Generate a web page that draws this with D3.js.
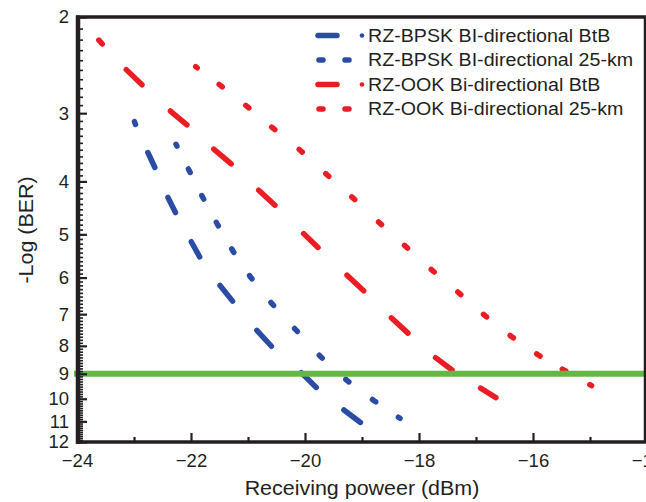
<!DOCTYPE html>
<html><head><meta charset="utf-8">
<script src="https://cdn.jsdelivr.net/npm/d3@7/dist/d3.min.js"></script>
<style>
body{margin:0;background:#fff}
svg{display:block}
text{font-family:Arial,"Liberation Sans",Helvetica,sans-serif;fill:#231f20}
</style></head>
<body><svg id="chart" width="646" height="502"></svg>
<script>
// ---------------- data ----------------
const xTickValues = [-24, -22, -20, -18, -16, -14];
const xMinorValues = [-23, -21, -19, -17, -15];
const yTickValues = [2, 3, 4, 5, 6, 7, 8, 9, 10, 11, 12];
const xTitle = "Receiving poweer (dBm)";
const yTitle = "-Log (BER)";
const seriesNames = ["RZ-BPSK BI-directional BtB", "RZ-BPSK BI-directional 25-km",
                     "RZ-OOK Bi-directional BtB", "RZ-OOK Bi-directional 25-km"];
const berLimit = 9;

const bpskBtbX = [-23.009,-22.956,-22.777,-22.614,-22.426,-22.251,-22.018,-21.825,-21.521,-21.240,-20.877,-20.556,-20.100,-19.767,-19.356,-18.988];
const bpskBtbY = [3.075,3.180,3.504,3.812,4.236,4.609,5.106,5.555,6.147,6.686,7.430,8.084,8.885,9.611,10.410,11.128];

const bpsk25X = [-22.263,-22.030,-21.795,-21.539,-21.268,-20.953,-20.575,-20.158,-19.725,-19.258,-18.789,-18.333];
const bpsk25Y = [3.421,3.823,4.277,4.787,5.357,5.992,6.706,7.484,8.376,9.269,10.083,10.861];

const ookBtbX = [-23.649,-23.526,-23.170,-22.825,-22.398,-22.035,-21.637,-21.258,-20.847,-20.491,-20.058,-19.737,-19.298,-18.935,-18.521,-18.158,-17.749,-17.381,-16.960,-16.609];
const ookBtbY = [2.185,2.260,2.477,2.683,2.951,3.176,3.464,3.744,4.118,4.456,4.945,5.326,5.892,6.395,7.054,7.643,8.351,8.922,9.505,10.011];

const ook25X = [-21.918,-21.479,-21.012,-20.556,-20.075,-19.609,-19.153,-18.684,-18.228,-17.760,-17.293,-16.842,-16.374,-15.907,-15.456,-14.972];
const ook25Y = [2.466,2.671,2.919,3.198,3.515,3.893,4.294,4.773,5.268,5.828,6.411,7.046,7.698,8.316,8.859,9.465];

// ---------------- chart ----------------
const BLUE = "#2b4ca4", RED = "#ec1c24", GREEN = "#62b846", INK = "#231f20";
const svg = d3.select("#chart");
const x = d3.scaleLinear().domain([-24, -14]).range([77, 647]);
const y = d3.scaleLog().domain([2, 12]).range([17, 442]);
const L = 77, R = 645, T = 17, B = 442;

svg.append("defs").append("clipPath").attr("id", "plot")
  .append("rect").attr("x", L).attr("y", T).attr("width", R - L).attr("height", B - T);

const series = [
  {name: seriesNames[0], xs: bpskBtbX, ys: bpskBtbY, color: BLUE, mode: "dash"},
  {name: seriesNames[1], xs: bpsk25X, ys: bpsk25Y, color: BLUE, mode: "dot"},
  {name: seriesNames[2], xs: ookBtbX, ys: ookBtbY, color: RED, mode: "dash"},
  {name: seriesNames[3], xs: ook25X, ys: ook25Y, color: RED, mode: "dot"}
];

const SW = 5.5;
const line = d3.line().x(d => x(d[0])).y(d => y(d[1]));

function dashStyle(pts, mode) {
  const px = pts.map(d => [x(d[0]), y(d[1])]);
  const segs = d3.pairs(px).map(([a, b]) => Math.hypot(b[0] - a[0], b[1] - a[1]));
  let arr = [], offset;
  if (mode === "dash") {
    arr = segs.map((s, i) => i % 2 === 0 ? Math.max(s - SW, 0.5) : s + SW);
    if (arr.length % 2 === 1) arr.push(2000); else arr.push(0.5, 2000);
    offset = -SW / 2;
  } else {
    const dot = 4;
    segs.forEach(s => { arr.push(dot, Math.max(s - dot, 0.5)); });
    arr.push(dot, 2000);
    offset = dot / 2;
  }
  return {dash: arr.map(v => v.toFixed(2)).join(","), offset};
}

const g = svg.append("g").attr("clip-path", "url(#plot)");
series.forEach(s => {
  const pts = s.xs.map((v, i) => [v, s.ys[i]]);
  const st = dashStyle(pts, s.mode);
  g.append("path").datum(pts)
    .attr("d", line)
    .attr("fill", "none")
    .attr("stroke", s.color)
    .attr("stroke-width", SW)
    .attr("stroke-linecap", "round")
    .attr("stroke-dasharray", st.dash)
    .attr("stroke-dashoffset", st.offset);
});

// threshold line
svg.append("line")
  .attr("x1", 74).attr("x2", 646)
  .attr("y1", y(berLimit)).attr("y2", y(berLimit))
  .attr("stroke", GREEN).attr("stroke-width", 6);

// axes
const xAxis = svg.append("g").attr("transform", `translate(0,${B})`)
  .call(d3.axisBottom(x).tickValues(xTickValues).tickSizeInner(-9).tickSizeOuter(0).tickPadding(12));
const xMinor = svg.append("g").attr("transform", `translate(0,${B})`)
  .call(d3.axisBottom(x).tickValues(xMinorValues).tickSizeInner(-5).tickSizeOuter(0).tickFormat(""));
const yMinorVals = d3.range(21, 120).map(v => v / 10).filter(v => Math.abs(v - Math.round(v)) > 1e-6);
const yMinor = svg.append("g").attr("transform", `translate(${L + 1},0)`)
  .call(d3.axisLeft(y).tickValues(yMinorVals).tickSizeInner(-5).tickSizeOuter(0).tickFormat(""));
const yAxis = svg.append("g").attr("transform", `translate(${L + 1},0)`)
  .call(d3.axisLeft(y).tickValues(yTickValues).tickFormat(d3.format("d")).tickSizeInner(-9).tickSizeOuter(0).tickPadding(9));

[xAxis, xMinor, yMinor, yAxis].forEach(a => {
  a.select(".domain").remove();
  a.selectAll(".tick line").attr("stroke", INK).attr("stroke-width", 2.2);
  a.selectAll(".tick text").attr("fill", INK).style("font-size", "18.5px")
    .style("font-family", "Arial, 'Liberation Sans', sans-serif");
});
yMinor.selectAll(".tick line").attr("stroke-width", 1.6);

// frame
svg.append("line").attr("x1", L - 1).attr("x2", R + 1).attr("y1", T).attr("y2", T).attr("stroke", INK).attr("stroke-width", 3.5);
svg.append("line").attr("x1", R).attr("x2", R).attr("y1", T).attr("y2", B).attr("stroke", INK).attr("stroke-width", 2.5);
svg.append("line").attr("x1", L + 1).attr("x2", L + 1).attr("y1", T - 1.5).attr("y2", B + 2).attr("stroke", INK).attr("stroke-width", 4.5);
svg.append("line").attr("x1", L - 1).attr("x2", R + 1).attr("y1", B).attr("y2", B).attr("stroke", INK).attr("stroke-width", 3.5);

// axis titles
svg.append("text").attr("x", 362).attr("y", 495).attr("text-anchor", "middle")
  .attr("transform", "translate(362,495) scale(1.1,1) translate(-362,-495)")
  .style("font-size", "19.5px").text(xTitle);
svg.append("text").attr("transform", "translate(33,230) rotate(-90) scale(1.1,1)")
  .attr("text-anchor", "middle").style("font-size", "19.5px").text(yTitle);

// legend
const lg = svg.append("g");
series.forEach((s, i) => {
  const cy = 35.5 + i * 24.5;
  const row = lg.append("g").attr("transform", `translate(0,${cy})`);
  if (s.mode === "dash") {
    row.append("line").attr("x1", 318).attr("x2", 337).attr("y1", 0).attr("y2", 0)
      .attr("stroke", s.color).attr("stroke-width", SW).attr("stroke-linecap", "round");
    row.append("circle").attr("cx", 362).attr("cy", 0).attr("r", 2.3).attr("fill", s.color);
  } else {
    [321, 347].forEach(cx => row.append("line").attr("x1", cx - 2).attr("x2", cx + 2).attr("y1", 0).attr("y2", 0)
      .attr("stroke", s.color).attr("stroke-width", SW).attr("stroke-linecap", "round"));
  }
  row.append("text").attr("transform", "translate(368,0) scale(1.11,1)")
    .attr("dy", "0.35em").style("font-size", "17.7px").text(s.name);
});
</script></body></html>
